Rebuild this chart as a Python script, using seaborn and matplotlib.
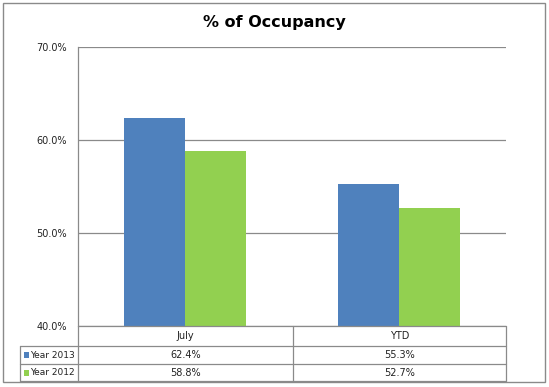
import matplotlib
matplotlib.use("Agg")
import matplotlib.pyplot as plt
import seaborn as sns
import pandas as pd
from matplotlib.lines import Line2D
from matplotlib.patches import Rectangle

categories = ["July", "YTD"]
series_names = ["Year 2013", "Year 2012"]
year_2013 = [62.4, 55.3]
year_2012 = [58.8, 52.7]
y_ticks = [40, 50, 60, 70]
title = "% of Occupancy"
colors = ["#4F81BD", "#92D050"]

df = pd.DataFrame({
    "category": categories * 2,
    "series": [series_names[0]] * 2 + [series_names[1]] * 2,
    "value": year_2013 + year_2012,
})

sns.set_style("white")
plt.rcParams["font.family"] = ["DejaVu Sans"]

W, H = 549, 387
fig = plt.figure(figsize=(W / 100, H / 100), dpi=100)

def fx(x):
    return x / W

def fy(y):
    return 1 - y / H

L, R, T, B = 78, 506, 47, 326
ax = fig.add_axes([fx(L), fy(B), fx(R) - fx(L), fy(T) - fy(B)])
sns.barplot(data=df, x="category", y="value", hue="series", order=categories,
            hue_order=series_names, palette=colors, width=0.57, gap=0,
            saturation=1, ax=ax, legend=False, zorder=3, linewidth=0,
            edgecolor="none")
ax.set_xlim(-0.5, 1.5)
ax.set_ylim(40, 70)
ax.set_yticks(y_ticks)
ax.set_yticklabels([f"{v:.1f}%" for v in y_ticks], fontsize=7, color="#222222")
ax.set_xticks([])
ax.set_xlabel("")
ax.set_ylabel("")
ax.grid(axis="y", color="#8a8a8a", linewidth=0.9, zorder=0)
for s in ["top", "right", "bottom"]:
    ax.spines[s].set_visible(False)
ax.spines["left"].set_color("#8a8a8a")
ax.spines["left"].set_linewidth(0.9)
ax.tick_params(axis="y", length=0, pad=8)

fig.text(0.5, fy(22), title, ha="center", va="center", fontsize=11.5,
         fontweight="bold", color="#000000")

# figure border
fig.add_artist(Rectangle((fx(3), fy(382)), fx(545) - fx(3), fy(3) - fy(382),
                         transform=fig.transFigure, fill=False,
                         edgecolor="#8a8a8a", linewidth=1))

# data table
lc = "#8a8a8a"
def hline(y, x0, x1):
    fig.add_artist(Line2D([fx(x0), fx(x1)], [fy(y), fy(y)], color=lc, linewidth=0.9,
                          transform=fig.transFigure))
def vline(x, y0, y1):
    fig.add_artist(Line2D([fx(x), fx(x)], [fy(y0), fy(y1)], color=lc, linewidth=0.9,
                          transform=fig.transFigure))

tab_left = 20
col_split = (L + R) / 2 + 0.5
rows_y = [326, 346, 364, 381]
hline(rows_y[0], L, R)
for y in rows_y[1:]:
    hline(y, tab_left, R)
vline(tab_left, rows_y[1], rows_y[3])
vline(L, rows_y[0], rows_y[3])
vline(col_split, rows_y[0], rows_y[3])
vline(R, rows_y[0], rows_y[3])

col_centers = [(L + col_split) / 2, (col_split + R) / 2]
for cx, cat in zip(col_centers, categories):
    fig.text(fx(cx), fy((rows_y[0] + rows_y[1]) / 2), cat, ha="center", va="center",
             fontsize=7, color="#222222")

for i, (name, vals, c) in enumerate(zip(series_names, [year_2013, year_2012], colors)):
    yc = (rows_y[i + 1] + rows_y[i + 2]) / 2
    fig.add_artist(Rectangle((fx(24), fy(yc + 3)), fx(5), fy(0) - fy(6),
                             transform=fig.transFigure, facecolor=c, edgecolor="none"))
    fig.text(fx(30), fy(yc), name, ha="left", va="center", fontsize=6.5, color="#222222")
    for cx, v in zip(col_centers, vals):
        fig.text(fx(cx), fy(yc), f"{v:.1f}%", ha="center", va="center",
                 fontsize=7, color="#222222")

fig.savefig("out.png", dpi=100)
